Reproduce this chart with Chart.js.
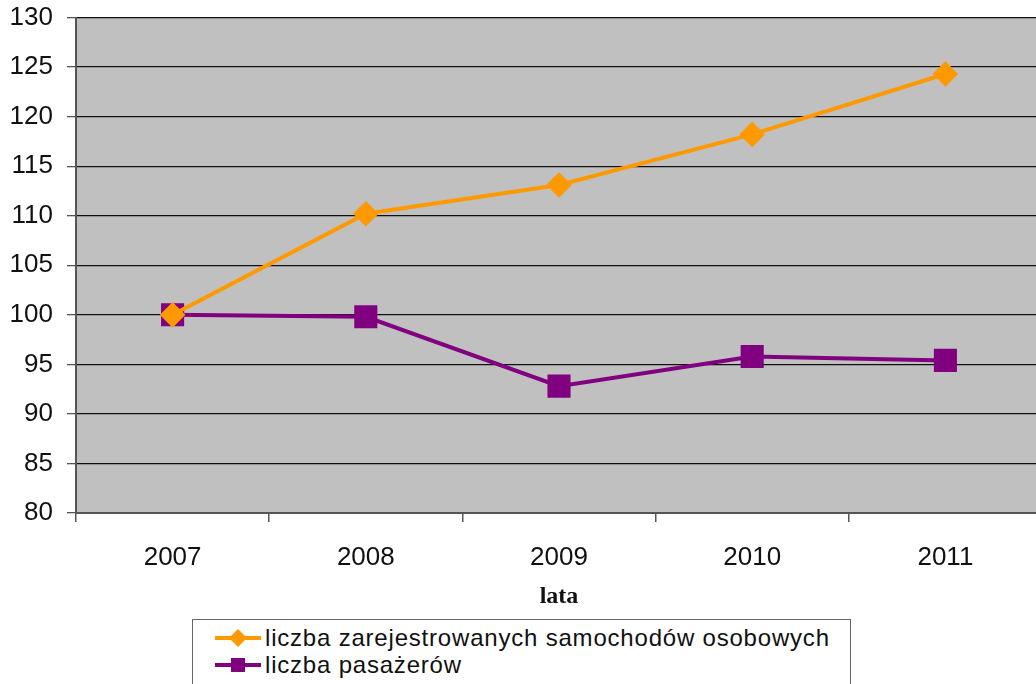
<!DOCTYPE html>
<html>
<head>
<meta charset="utf-8">
<script src="https://cdn.jsdelivr.net/npm/chart.js@4/dist/chart.umd.min.js"></script>
<style>
  html, body { margin:0; padding:0; background:#fff; overflow:hidden; width:1036px; height:684px; }
  #wrap { position:absolute; left:0; top:0; width:1060px; height:684px; }
  #legend {
    position:absolute; left:192px; top:619px; width:659px; height:80px;
    border:1px solid #666; background:#fff; box-sizing:border-box;
    font-family:"Liberation Sans", Arial, sans-serif; font-size:24px; color:#111; letter-spacing:0.8px;
  }
  .lg-item { position:absolute; left:22px; height:27px; display:flex; align-items:center; white-space:nowrap; }
  .lg-item canvas { margin-right:4px; }
</style>
</head>
<body>
<div id="wrap"><canvas id="chart"></canvas></div>
<div id="legend"></div>
<script>
/* chart data */
const years      = ['2007', '2008', '2009', '2010', '2011'];
const cars       = [100, 110.2, 113.1, 118.2, 124.3];
const passengers = [100, 99.8, 92.8, 95.8, 95.4];
const seriesLabels = ['liczba zarejestrowanych samochodów osobowych', 'liczba pasażerów'];
const yTicks = { min: 80, max: 130, step: 5 };

const ORANGE = '#FF9900', PURPLE = '#800080';
const FONT = '"Liberation Sans", Arial, sans-serif';

/* grey plot background */
const plotBg = {
  id: 'plotBg',
  beforeDraw(chart) {
    const { ctx, chartArea: a } = chart;
    ctx.save();
    ctx.fillStyle = '#C0C0C0';
    ctx.fillRect(a.left, a.top, a.right - a.left, a.bottom - a.top);
    ctx.restore();
  }
};

const datasets = [
  { label: seriesLabels[0], data: cars, borderColor: ORANGE, backgroundColor: ORANGE,
    borderWidth: 4, pointStyle: 'rectRot', pointRadius: 10, pointHoverRadius: 10, tension: 0 },
  { label: seriesLabels[1], data: passengers, borderColor: PURPLE, backgroundColor: PURPLE,
    borderWidth: 4, pointStyle: 'rect', pointRadius: 13.5, pointHoverRadius: 13.5, tension: 0 },
];

new Chart(document.getElementById('chart'), {
  type: 'line',
  data: { labels: years, datasets },
  plugins: [plotBg],
  options: {
    responsive: true, maintainAspectRatio: false, animation: false,
    layout: { padding: { top: 16, right: 18, left: 0, bottom: 73 } },
    plugins: { legend: { display: false }, tooltip: { enabled: false } },
    scales: {
      x: {
        offset: true,
        grid: { offset: true, drawOnChartArea: false, drawTicks: true, tickLength: 9, color: '#555', lineWidth: 1.5 },
        border: { color: '#555', width: 2 },
        ticks: { color: '#111', font: { family: FONT, size: 26 }, padding: 20 },
        title: { display: true, text: 'lata', color: '#111', padding: { top: 0, bottom: 0 },
                 font: { family: '"Liberation Serif", "Times New Roman", serif', size: 24, weight: 'bold' } },
        afterFit: s => { s.height = 98; s.paddingLeft = 0; s.paddingRight = 0; },
      },
      y: {
        min: yTicks.min, max: yTicks.max,
        grid: { color: '#111', lineWidth: 1.3, tickLength: 9, tickColor: '#555' },
        border: { color: '#555', width: 2 },
        ticks: { stepSize: yTicks.step, color: '#111', font: { family: FONT, size: 26 }, padding: 14 },
        afterFit: s => { s.width = 76; s.paddingTop = 0; s.paddingBottom = 0; },
      },
    },
  },
});

/* legend, built from the dataset labels */
const legend = document.getElementById('legend');
datasets.forEach((d, i) => {
  const item = document.createElement('div');
  item.className = 'lg-item';
  item.style.top = (4 + i * 27) + 'px';
  const c = document.createElement('canvas');
  c.width = 46; c.height = 24;
  const g = c.getContext('2d');
  g.strokeStyle = d.borderColor; g.lineWidth = 4;
  g.beginPath(); g.moveTo(0, 12); g.lineTo(46, 12); g.stroke();
  g.fillStyle = d.backgroundColor;
  if (d.pointStyle === 'rectRot') {
    g.beginPath(); g.moveTo(23, 3); g.lineTo(32, 12); g.lineTo(23, 21); g.lineTo(14, 12); g.closePath(); g.fill();
  } else {
    g.fillRect(16, 5, 14, 14);
  }
  const span = document.createElement('span');
  span.textContent = d.label;
  item.appendChild(c); item.appendChild(span);
  legend.appendChild(item);
});
</script>
</body>
</html>
